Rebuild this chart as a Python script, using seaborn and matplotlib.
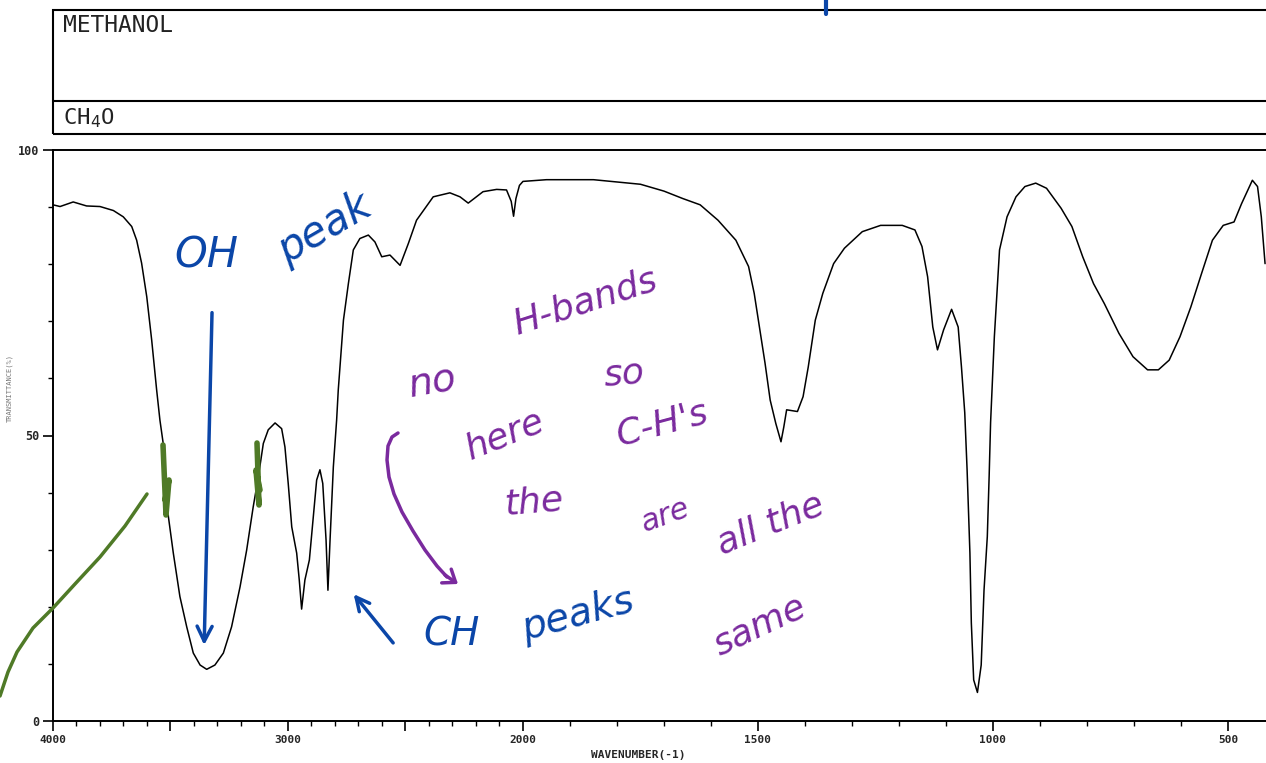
import numpy as np
import pandas as pd
import matplotlib
matplotlib.use("Agg")
import matplotlib.pyplot as plt
import matplotlib.patches as mpatches
from matplotlib.lines import Line2D
from matplotlib.ticker import FixedLocator, FixedFormatter
import seaborn as sns

# IR spectrum of methanol
wavenumber = [4000, 3970, 3914, 3857, 3800, 3743, 3701, 3665, 3644, 3623, 3601, 3580,
              3559, 3545, 3531, 3509, 3488, 3460, 3431, 3403, 3374, 3346, 3311, 3275,
              3240, 3204, 3176, 3148, 3126, 3105, 3084, 3055, 3027, 3013, 2999, 2984,
              2963, 2952, 2942, 2928, 2909, 2892, 2878, 2864, 2852, 2838, 2830, 2821,
              2807, 2793, 2786, 2764, 2743, 2722, 2694, 2658, 2630, 2601, 2566, 2523,
              2488, 2453, 2382, 2311, 2268, 2233, 2170, 2112, 2070, 2050, 2040, 2030,
              2015, 2000, 1950, 1850, 1750, 1700, 1660, 1623, 1585, 1547, 1520, 1508,
              1497, 1485, 1474, 1462, 1451, 1445, 1439, 1416, 1404, 1393, 1378, 1362,
              1339, 1316, 1278, 1239, 1193, 1166, 1151, 1139, 1128, 1118, 1105, 1088,
              1074, 1067, 1060, 1055, 1049, 1046, 1041, 1033, 1025, 1019, 1012, 1008,
              1005, 997, 986, 970, 951, 932, 909, 886, 855, 832, 809, 786, 763, 732,
              702, 671, 648, 625, 602, 579, 556, 533, 510, 487, 471, 448, 437, 429, 421]
transmittance = [90.4, 90.1, 90.9, 90.2, 90.1, 89.4, 88.3, 86.6, 84.2, 80.2, 74.3, 66.7,
                 58.0, 52.7, 48.6, 35.8, 29.4, 21.8, 16.5, 11.9, 9.8, 9.05, 9.8, 11.9,
                 16.5, 23.5, 29.9, 37.5, 42.8, 48.6, 51.0, 52.2, 51.2, 48.0, 41.6, 34.0,
                 29.4, 24.7, 19.6, 24.7, 28.2, 35.8, 42.2, 44.0, 41.6, 31.7, 22.9, 31.7,
                 44.5, 52.7, 58.0, 70.2, 76.6, 82.5, 84.5, 85.1, 83.9, 81.3, 81.6, 79.8,
                 83.6, 87.7, 91.8, 92.5, 91.8, 90.7, 92.7, 93.1, 93.0, 91.0, 88.4, 91.5,
                 93.8, 94.5, 94.8, 94.8, 94.0, 92.8, 91.5, 90.4, 87.7, 84.2, 79.6, 74.9,
                 69.0, 62.7, 56.2, 52.1, 48.9, 51.5, 54.5, 54.2, 56.8, 62.0, 70.2, 74.9,
                 80.1, 82.8, 85.7, 86.8, 86.8, 86.0, 83.1, 77.8, 69.0, 65.0, 68.5, 72.1,
                 69.0, 62.0, 54.0, 44.0, 29.4, 17.2, 7.2, 5.0, 9.8, 22.9, 32.3, 43.1,
                 52.3, 67.3, 82.5, 88.3, 91.8, 93.6, 94.2, 93.3, 89.8, 86.6, 81.3, 76.6,
                 73.1, 67.9, 63.8, 61.5, 61.5, 63.2, 67.3, 72.5, 78.4, 84.2, 86.8, 87.4,
                 90.6, 94.7, 93.6, 88.3, 80.1]

x_major = [4000, 3500, 3000, 2500, 2000, 1500, 1000, 500]
x_major_labels = ["4000", "", "3000", "", "2000", "1500", "1000", "500"]
x_minor = [w for w in range(4000, 400, -100) if w not in x_major]
y_major = [0, 50, 100]
y_minor = list(range(10, 100, 10))

compound = "METHANOL"
formula = "CH$_4$O"

W, H = 1266, 763
BLUE = "#0b46a8"
PURPLE = "#7a2a9e"
GREEN = "#4f7a27"


def fpx(x, y):
    return x / W, 1 - y / H


def fwd(w):
    w = np.asarray(w, dtype=float)
    return np.where(w >= 2000, 2 + (w - 2000) / 1000, w / 500 - 2)


def inv(u):
    u = np.asarray(u, dtype=float)
    return np.where(u >= 2, 2000 + (u - 2) * 1000, (u + 2) * 500)


sns.set_theme(style="white")
plt.rcParams["font.family"] = ["DejaVu Sans"]

df = pd.DataFrame({"wavenumber": wavenumber, "T": transmittance})

fig = plt.figure(figsize=(W / 100, H / 100), dpi=100)
ax = fig.add_axes([53 / W, 42 / H, 1 - 53 / W, 571 / H])

sns.lineplot(data=df, x="wavenumber", y="T", color="black", linewidth=1.1, ax=ax)

ax.set_xscale("function", functions=(fwd, inv))
ax.set_xlim(4000, 419)
ax.set_ylim(0, 100)

ax.xaxis.set_major_locator(FixedLocator(x_major))
ax.xaxis.set_major_formatter(FixedFormatter(x_major_labels))
ax.xaxis.set_minor_locator(FixedLocator(x_minor))
ax.yaxis.set_major_locator(FixedLocator(y_major))
ax.yaxis.set_minor_locator(FixedLocator(y_minor))
ax.set_yticklabels([str(v) for v in y_major])

mono = {"family": "DejaVu Sans Mono", "weight": "bold", "size": 8}
for lab in ax.get_xticklabels():
    lab.set_fontfamily("DejaVu Sans Mono")
    lab.set_fontweight("bold")
    lab.set_fontsize(8)
for lab in ax.get_yticklabels():
    lab.set_fontfamily("DejaVu Sans Mono")
    lab.set_fontweight("bold")
    lab.set_fontsize(8.5)

ax.tick_params(which="major", direction="out", length=7, width=1.2, color="black", pad=3)
ax.tick_params(which="minor", direction="out", length=3.5, width=1.0, color="black")
ax.tick_params(axis="x", which="both", bottom=True)
ax.tick_params(axis="y", which="both", left=True)
ax.set_xlabel("")
ax.set_ylabel("")
for side in ["left", "bottom", "top"]:
    ax.spines[side].set_color("black")
    ax.spines[side].set_linewidth(1.4)
ax.spines["right"].set_visible(False)

fig.text(*fpx(638, 755), "WAVENUMBER(-1)", ha="center", va="center", fontdict=mono)
fig.text(*fpx(10, 388), "TRANSMITTANCE(%)", ha="center", va="center", rotation=90,
         family="DejaVu Sans Mono", fontsize=5, color="#777777")

# header boxes
x0, y0 = fpx(53, 134)
fig.add_artist(mpatches.Rectangle((x0, y0), 1.2, 124 / H, transform=fig.transFigure,
                                  fill=False, edgecolor="black", linewidth=1.5))
fig.add_artist(Line2D([53 / W, 1], [1 - 101 / H] * 2, transform=fig.transFigure,
                      color="black", linewidth=1.5))
fig.text(*fpx(63, 26), compound, ha="left", va="center", family="DejaVu Sans Mono",
         fontsize=16.5, color="#222222")
fig.text(*fpx(63, 118), formula, ha="left", va="center", family="DejaVu Sans Mono",
         fontsize=16, color="#222222")

# handwritten notes
hand = {"family": "DejaVu Sans", "style": "italic"}
notes = [
    ("OH", 206, 256, 0, BLUE, 30),
    ("peak", 325, 228, 30, BLUE, 30),
    ("CH", 452, 634, 0, BLUE, 28),
    ("peaks", 578, 615, 15, BLUE, 28),
    ("no", 432, 382, 10, PURPLE, 28),
    ("H-bands", 585, 302, 18, PURPLE, 26),
    ("here", 505, 435, 22, PURPLE, 26),
    ("so", 624, 374, 5, PURPLE, 26),
    ("the", 534, 502, 5, PURPLE, 26),
    ("C-H's", 662, 424, 15, PURPLE, 26),
    ("are", 665, 515, 20, PURPLE, 22),
    ("all the", 770, 524, 22, PURPLE, 26),
    ("same", 760, 626, 25, PURPLE, 26),
]
for txt, px_, py_, rot, col, fs in notes:
    fig.text(*fpx(px_, py_), txt, ha="center", va="center", rotation=rot,
             color=col, fontsize=fs, **hand)

# arrows pointing at the bands
ax.annotate("", xy=(3357, 12.8), xytext=(3323, 72.0),
            arrowprops=dict(arrowstyle="->,head_length=0.9,head_width=0.45",
                            color=BLUE, lw=2.5))
ax.annotate("", xy=(2728, 22.6), xytext=(2545, 13.3),
            arrowprops=dict(arrowstyle="->,head_length=0.8,head_width=0.4",
                            color=BLUE, lw=2.5))

# purple hooked arrow: a bend at the top, then down to the CH label
hx = [398, 392, 388, 387, 389, 394, 402, 413, 425, 437, 447]
hy = [433, 437, 446, 460, 477, 494, 512, 531, 550, 566, 577]
fig.add_artist(Line2D([x / W for x in hx], [1 - y / H for y in hy],
                      transform=fig.transFigure, color=PURPLE, linewidth=2.5,
                      solid_capstyle="round", solid_joinstyle="round"))
fig.add_artist(mpatches.FancyArrowPatch(fpx(445, 575), fpx(458, 584),
                                        transform=fig.transFigure,
                                        arrowstyle="->,head_length=8,head_width=6",
                                        color=PURPLE, lw=2.5, shrinkA=0, shrinkB=0))

# green pen marks
gx = [0, 8, 17, 33, 53, 75, 100, 125, 147]
gy = [696, 672, 652, 628, 608, 584, 557, 526, 494]
fig.add_artist(Line2D([x / W for x in gx], [1 - y / H for y in gy],
                      transform=fig.transFigure, color=GREEN, linewidth=2.5,
                      solid_capstyle="round", solid_joinstyle="round"))
for sx, sy in [([163, 166, 169, 165], [445, 515, 480, 500]),
               ([257, 259, 256, 260], [443, 505, 470, 490])]:
    fig.add_artist(Line2D([x / W for x in sx], [1 - y / H for y in sy],
                          transform=fig.transFigure, color=GREEN, linewidth=4,
                          solid_capstyle="round"))
fig.add_artist(Line2D([826 / W] * 2, [1, 1 - 14 / H], transform=fig.transFigure,
                      color=BLUE, linewidth=3))

fig.savefig("out.png", dpi=100)
